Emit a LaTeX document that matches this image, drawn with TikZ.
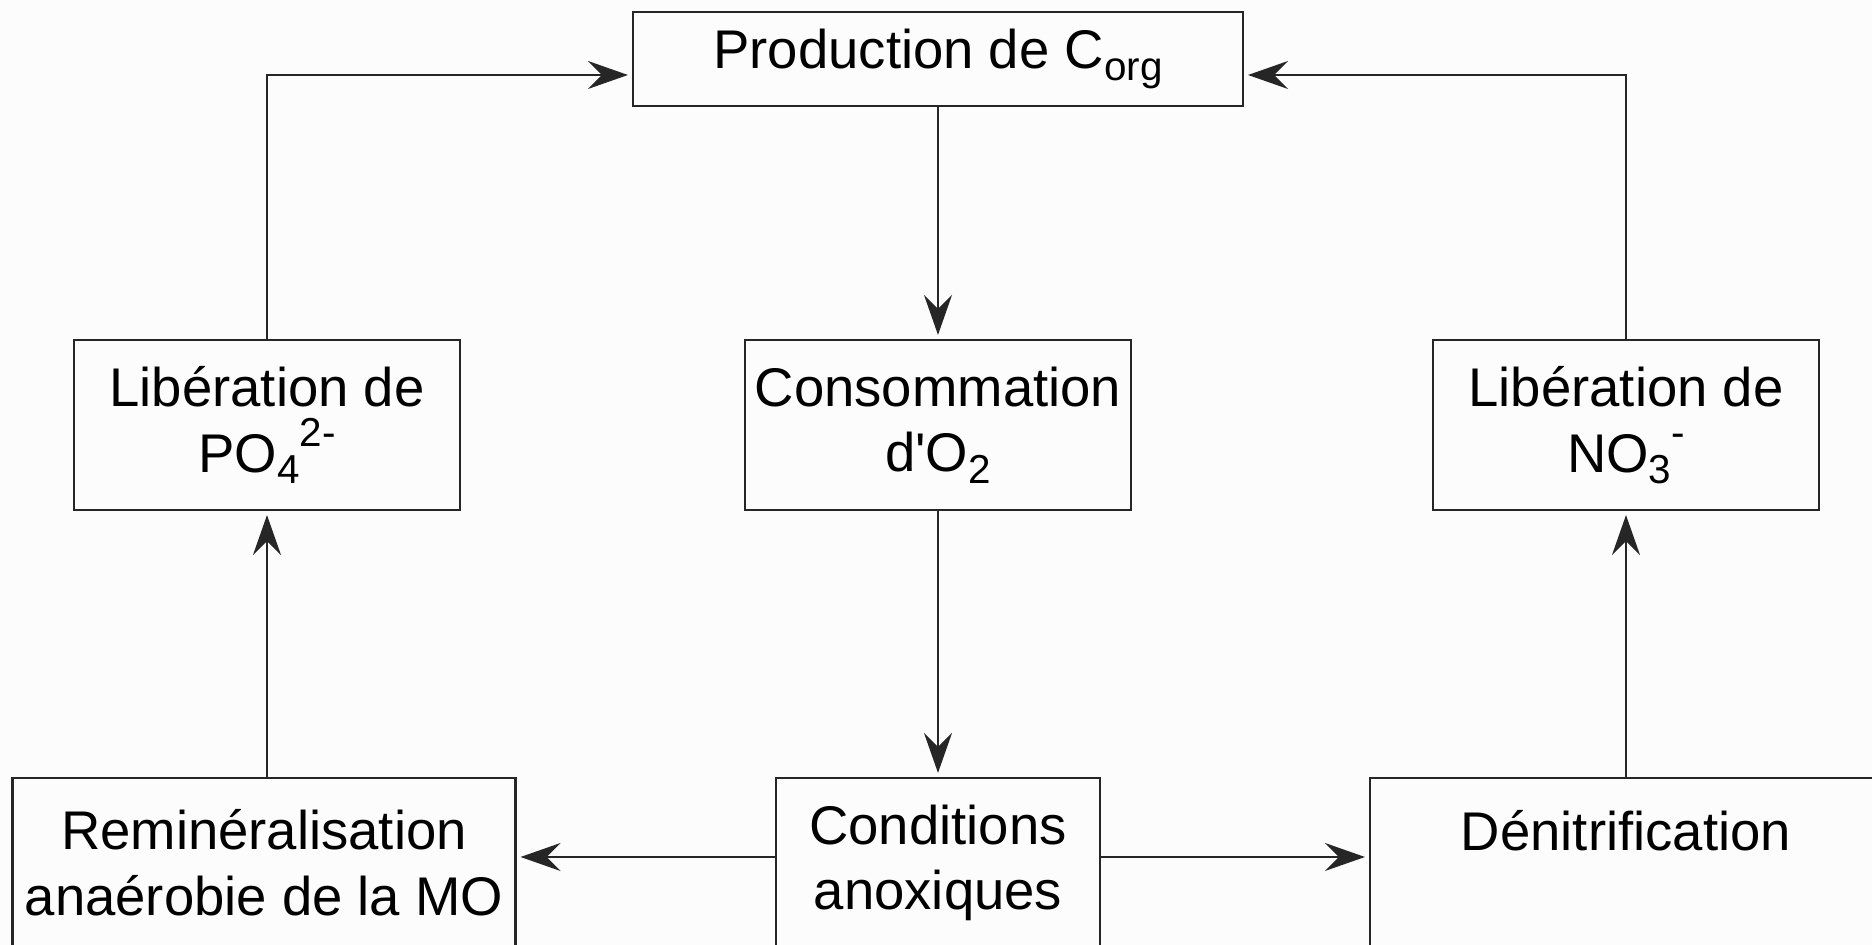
\documentclass[tikz,border=0pt]{standalone}
\usepackage{fontspec}
\newfontfamily\boxfont{Liberation Sans}
\usepackage{tikz}
\usetikzlibrary{arrows.meta, positioning, calc}

% chemistry indices, drawn in text font
\newcommand{\chsub}[1]{\raisebox{-3.2pt}{\fontsize{11.5}{11.5}\selectfont #1}}
\newcommand{\chsup}[1]{\raisebox{7.4pt}{\fontsize{11.5}{11.5}\selectfont #1}}

\begin{document}
\begin{tikzpicture}[
  box/.style={draw=black!85, line width=0.6pt, align=center, inner sep=0pt,
    font=\boxfont\fontsize{15.5}{18.7}\selectfont},
  midbox/.style={box, minimum width=3.86cm, minimum height=1.70cm},
  arr/.style={-{Stealth[length=4mm, width=2.8mm, inset=1.4mm]}, line width=0.6pt, draw=black!85, shorten >=0.4mm},
]
\useasboundingbox[fill=white!99!black] (0,0) rectangle (18.72,-9.45);

% top
\node[box, minimum width=6.10cm, minimum height=0.94cm] (prod) at (9.38,-0.59) {Production de C\chsub{org}};

% middle row
\node[midbox] (lib-po) at (2.67,-4.25) {Libération de\\PO\chsub{4}\chsup{2-}};
\node[midbox] (conso) at (9.38,-4.25) {Consommation\\d'O\chsub{2}};
\node[midbox] (lib-no) at (16.26,-4.25) {Libération de\\NO\chsub{3}\chsup{-}};

% bottom row (cut by the frame)
\node[box, minimum width=5.03cm, minimum height=1.70cm] (remin) at (2.64,-8.63) {Reminéralisation\\anaérobie de la MO};
\node[box, minimum width=3.24cm, minimum height=1.70cm] (cond) at (9.38,-8.63) {Conditions\\anoxiques};
\node[box, minimum width=5.12cm, minimum height=1.70cm] (denit) at (16.26,-8.63) {Dénitrification\\\mbox{}};

% flows
\draw[arr] (prod) -- (conso);
\draw[arr] (conso) -- (cond);
\draw[arr] ([yshift=0.6mm]cond.west) -- ([yshift=0.6mm]remin.east);
\draw[arr] ([yshift=0.6mm]cond.east) -- ([yshift=0.6mm]denit.west);
\draw[arr] (remin.north -| lib-po) -- (lib-po);
\draw[arr] (denit.north -| lib-no) -- (lib-no);

% back to production
\draw[arr] (lib-po.north) |- ([yshift=-1.6mm]prod.west);
\draw[arr] (lib-no.north) |- ([yshift=-1.6mm]prod.east);

\end{tikzpicture}
\end{document}
